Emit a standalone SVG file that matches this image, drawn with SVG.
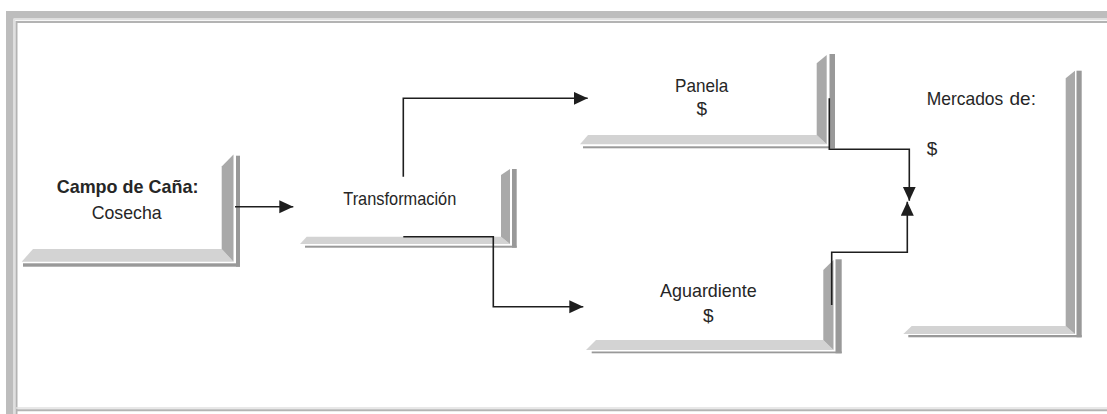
<svg xmlns="http://www.w3.org/2000/svg" width="1107" height="414" viewBox="0 0 1107 414">
<style>
.bg{fill:#ffffff}
.band{fill:#bdbdbd}
.fl{fill:none;stroke:#e0e0e0;stroke-width:1.5}
.fd{fill:none;stroke:#b3b3b3;stroke-width:2}
.bot{fill:#d3d3d3}
.ver{fill:#a9a9a9}
.sh{fill:#999999}
.t{font-family:"Liberation Sans",Arial,sans-serif;font-size:19px;fill:#262626}
.c{text-anchor:middle}
.b{font-weight:bold}
.ln{fill:none;stroke:#1e1e1e;stroke-width:1.6}
</style>
<defs>
<marker id="ah" markerUnits="userSpaceOnUse" markerWidth="15" markerHeight="14" refX="14" refY="6.5" orient="auto">
<path d="M0,0 L14,6.5 L0,13 Z" fill="#1e1e1e"/>
</marker>
</defs>
<rect class="bg" x="0" y="0" width="1107" height="414"/>
<g id="frame">
<rect class="band" x="6" y="11" width="1101" height="7.5"/>
<rect class="band" x="6" y="11" width="7.5" height="403"/>
<path class="fl" d="M14.5 414 V19.5 H1107"/>
<path class="fd" d="M16.5 414 V22 H1107"/>
<path class="fl" d="M16 408 H1107"/>
<path class="fd" d="M16 410.3 H1107"/>
</g>
<g id="campo">
<polygon class="bot" points="33,249 221.7,249 233.5,261.7 21.7,261.7"/>
<polygon class="ver" points="221.7,166.5 233.5,154.5 233.5,261.7 221.7,249"/>
<rect class="sh" x="236" y="155.7" width="4" height="111"/>
<rect class="sh" x="23" y="263.3" width="217" height="3.4"/>
<text class="t b" x="56.7" y="193.3" textLength="141.7" lengthAdjust="spacingAndGlyphs">Campo de Caña:</text>
<text class="t" x="91.7" y="219.3" textLength="70" lengthAdjust="spacingAndGlyphs">Cosecha</text>
</g>
<g id="transformacion">
<polygon class="bot" points="306.7,236.7 501,236.7 510,244 300,244"/>
<polygon class="ver" points="501,175 510,169 510,244 501,236.7"/>
<rect class="sh" x="512" y="169" width="4.7" height="78.7"/>
<rect class="sh" x="305" y="245.7" width="211.7" height="2"/>
<text class="t" x="343.3" y="205" textLength="113" lengthAdjust="spacingAndGlyphs">Transformación</text>
</g>
<g id="panela">
<polygon class="bot" points="588,135 816.7,135 826.7,144.3 580,144.3"/>
<polygon class="ver" points="816.7,63.3 826.7,55 826.7,144.3 816.7,135"/>
<rect class="sh" x="829.5" y="54" width="5.5" height="94.3"/>
<rect class="sh" x="583" y="146.3" width="252" height="2"/>
<text class="t" x="675" y="91.7" textLength="53.3" lengthAdjust="spacingAndGlyphs">Panela</text>
<text class="t c" x="701.7" y="115">$</text>
</g>
<g id="aguardiente">
<polygon class="bot" points="596,340 823.3,340 833.5,350 586,350"/>
<polygon class="ver" points="823.3,270 833.5,260 833.5,350 823.3,340"/>
<rect class="sh" x="835.5" y="259.3" width="6.2" height="94"/>
<rect class="sh" x="591.7" y="351.5" width="250" height="1.8"/>
<text class="t" x="660" y="296.7" textLength="96.7" lengthAdjust="spacingAndGlyphs">Aguardiente</text>
<text class="t c" x="708.3" y="322">$</text>
</g>
<g id="mercados">
<polygon class="bot" points="911.7,326 1065.7,326 1075,334 903.3,334"/>
<polygon class="ver" points="1065.7,78.3 1075,70.7 1075,334 1065.7,326"/>
<rect class="sh" x="1076.5" y="70.7" width="5.2" height="266.6"/>
<rect class="sh" x="908.3" y="335" width="173.4" height="2.3"/>
<text class="t" x="926.7" y="105" textLength="76.6" lengthAdjust="spacingAndGlyphs">Mercados</text>
<text class="t" x="1009.5" y="105">de:</text>
<text class="t" x="926.7" y="155">$</text>
</g>
<g id="connectors">
<path class="ln" marker-end="url(#ah)" d="M235 206.7 H293.3"/>
<path class="ln" marker-end="url(#ah)" d="M403.3 176.7 V98.3 H587.7"/>
<path class="ln" marker-end="url(#ah)" d="M403.3 236.7 H493.3 V306.7 H583.3"/>
<path class="ln" marker-end="url(#ah)" d="M829.3 98.3 V149.3 H909.3 V200.7"/>
<path class="ln" marker-end="url(#ah)" d="M831.7 305 V252.3 H907.3 V201.7"/>
</g>
</svg>
